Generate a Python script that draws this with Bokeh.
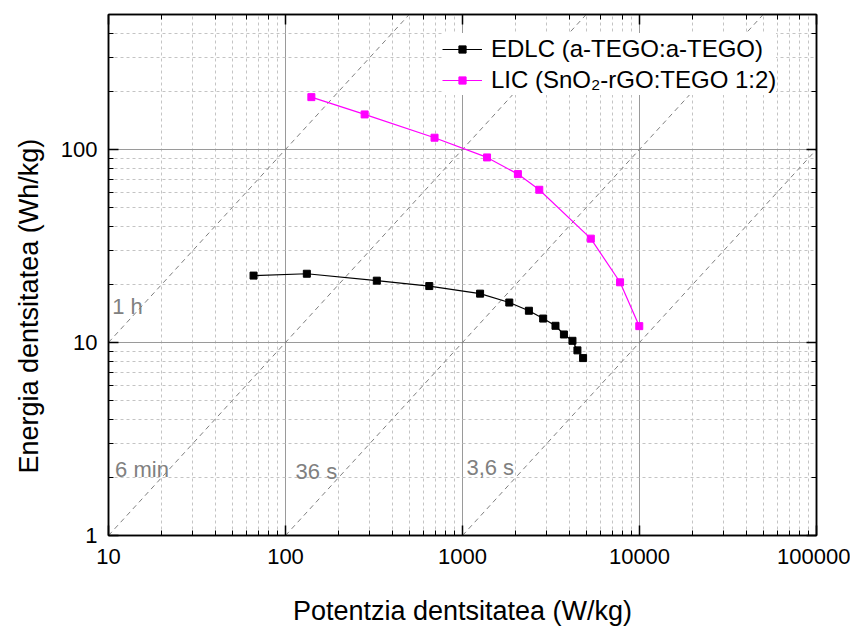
from bokeh.plotting import figure
from bokeh.models import Range1d, LogAxis, NumeralTickFormatter, Legend, LegendItem, Title
from bokeh.embed import file_html
from bokeh.resources import INLINE
from bokeh.core.properties import value

# ---- data ----
edlc_power = [66, 132, 328, 649, 1257, 1838, 2372, 2856, 3352, 3741, 4181, 4460, 4800]
edlc_energy = [22.2, 22.7, 20.9, 19.6, 17.9, 16.1, 14.6, 13.3, 12.2, 11.0, 10.2, 9.1, 8.3]
lic_power = [140, 280, 695, 1376, 2056, 2715, 5309, 7766, 9970]
lic_energy = [186.6, 151.8, 115, 90.9, 74.5, 61.8, 34.5, 20.5, 12.15]
time_hours = [1, 0.1, 0.01, 0.001]
time_labels = ["1 h", "6 min", "36 s", "3,6 s"]

# ---- placement of the time-line labels (data coordinates, baseline) ----
label_x = [10.5, 10.9, 114, 1052]
label_y = [15.4, 2.2, 2.15, 2.25]

X_MIN, X_MAX = 10, 100000
Y_MIN, Y_MAX = 1, 500
FONT = "Liberation Sans"

p = figure(x_axis_type="log", y_axis_type="log",
           x_range=Range1d(X_MIN, X_MAX), y_range=Range1d(Y_MIN, Y_MAX),
           frame_width=708, frame_height=521,
           min_border_left=108, min_border_right=34, min_border_top=14, min_border_bottom=93,
           output_backend="svg", toolbar_location=None,
           background_fill_color="white", border_fill_color="white")

p.outline_line_color = "black"
p.outline_line_width = 1.5

# grids
for g in (p.xgrid, p.ygrid):
    g.grid_line_color = "#9a9a9a"
    g.grid_line_width = 1
    g.minor_grid_line_color = "#c4c4c4"
    g.minor_grid_line_dash = "3 3"
    g.minor_grid_line_width = 1

def style_axis(ax, labels=True):
    ax.axis_line_color = "black"
    ax.axis_line_width = 1.5
    ax.major_tick_in = 10
    ax.major_tick_out = 0
    ax.minor_tick_in = 5
    ax.minor_tick_out = 0
    ax.major_tick_line_color = "black"
    ax.major_tick_line_width = 1.5
    ax.minor_tick_line_color = "black"
    ax.minor_tick_line_width = 1
    ax.formatter = NumeralTickFormatter(format="0")
    ax.major_label_text_font = FONT
    ax.axis_label_text_font = FONT
    ax.axis_label_text_font_style = "normal"
    ax.axis_label_text_color = "black"
    if labels:
        ax.major_label_text_color = "black"
        ax.major_label_text_font_size = "22px"
        ax.axis_label_text_font_size = "27px"
    else:
        ax.major_label_text_color = None
        ax.major_label_text_font_size = "1px"
        ax.major_label_standoff = 0
        ax.axis_label = None

xa = p.xaxis[0]
ya = p.yaxis[0]
style_axis(xa)
style_axis(ya)
xa.axis_label = "Potentzia dentsitatea (W/kg)"
xa.major_label_standoff = 13
xa.axis_label_standoff = 29
ya.major_label_standoff = 11
ya.axis_label = None

# y title as a side title so it can sit where the reference has it
ytitle = Title(text="Energia dentsitatea (Wh/kg)", align="left", offset=62,
               vertical_align="top", standoff=24,
               text_font=FONT, text_font_size="27px", text_font_style="normal",
               text_color="black")
p.add_layout(ytitle, "left")

top_ax = LogAxis()
right_ax = LogAxis()
style_axis(top_ax, labels=False)
style_axis(right_ax, labels=False)
p.add_layout(top_ax, "above")
p.add_layout(right_ax, "right")

# constant-time guide lines (E = t * P)
xs, ys = [], []
for t in time_hours:
    x0 = max(X_MIN, Y_MIN / t)
    x1 = min(X_MAX, Y_MAX / t)
    xs.append([x0, x1])
    ys.append([t * x0, t * x1])
p.multi_line(xs, ys, line_color="#7f7f7f", line_width=1, line_dash="5 4")

p.text(x=label_x, y=label_y, text=time_labels, text_font=value(FONT),
       text_font_size="22px", text_color="#808080", text_baseline="alphabetic", text_align="left")

# data series
r1l = p.line(edlc_power, edlc_energy, line_color="black", line_width=1.2)
r1s = p.scatter(edlc_power, edlc_energy, marker="square", size=7, fill_color="black", line_color="black")
r2l = p.line(lic_power, lic_energy, line_color="#ff00ff", line_width=1.2)
r2s = p.scatter(lic_power, lic_energy, marker="square", size=7, fill_color="#ff00ff", line_color="#ff00ff")

legend = Legend(items=[
    LegendItem(label="EDLC (a-TEGO:a-TEGO)", renderers=[r1l, r1s]),
    LegendItem(label="LIC (SnO\u2082-rGO:TEGO 1:2)", renderers=[r2l, r2s]),
], location=(334, 440))
legend.label_text_font = FONT
legend.label_text_font_size = "24px"
legend.label_text_color = "black"
legend.glyph_width = 40
legend.glyph_height = 18
legend.label_height = 31
legend.label_standoff = 9
legend.spacing = 0
legend.padding = 8
legend.margin = 0
legend.border_line_color = None
legend.background_fill_color = "white"
legend.background_fill_alpha = 1.0
p.add_layout(legend)

open("out.html", "w").write(file_html(p, INLINE))
